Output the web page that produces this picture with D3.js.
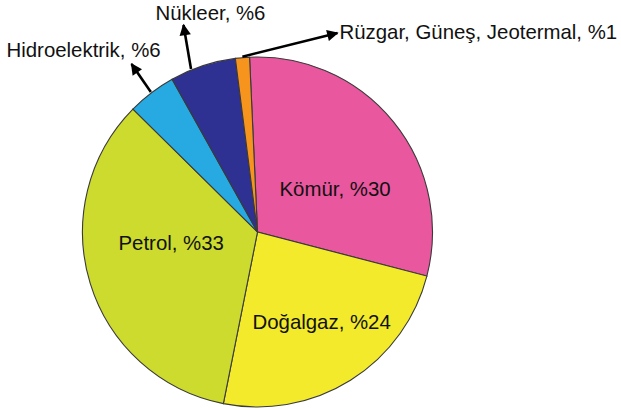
<!DOCTYPE html>
<html>
<head>
<meta charset="utf-8">
<script src="https://cdn.jsdelivr.net/npm/d3@7"></script>
<style>
  body { margin: 0; background: #fff; }
  svg { display: block; }
</style>
</head>
<body>
<svg width="621" height="410"></svg>
<script>
// slice shares as drawn in the picture (clockwise from the top)
let sources = ["Kömür", "Doğalgaz", "Petrol", "Hidroelektrik", "Nükleer", "Rüzgar, Güneş, Jeotermal"];
let shares = [29.8, 24.1, 34.3, 4.5, 6.1, 1.3];
// percentages printed on the labels
let labelPct = ["%30", "%24", "%33", "%6", "%6", "%1"];
let colors = ["#E9579E", "#F2EA2B", "#CCDB2E", "#27AAE1", "#2E3191", "#F7941E"];

let svg = d3.select("svg"),
    cx = 257.5, cy = 232, radius = 175;

let data = sources.map((s, i) => ({name: s, value: shares[i], pct: labelPct[i], color: colors[i]}));

let startAngle = -2.6 * Math.PI / 180;
let pie = d3.pie()
    .sort(null)
    .value((d) => d.value)
    .startAngle(startAngle)
    .endAngle(startAngle + 2 * Math.PI);

let arc = d3.arc().innerRadius(0).outerRadius(radius);

let g = svg.append("g")
    .attr("transform", "translate(" + cx + "," + cy + ")");

let arcs = pie(data);

g.selectAll(".slice")
  .data(arcs)
  .enter().append("path")
    .attr("class", "slice")
    .attr("d", arc)
    .style("fill", (d) => d.data.color)
    .style("stroke", "#3a3a3a")
    .style("stroke-width", 1.1);

// label placement: inside labels in pie coords, outside ones with arrows
let layout = [
  {x: 22, y: -36, anchor: "start"},
  {x: -5, y: 97, anchor: "start"},
  {x: -139, y: 18, anchor: "start"},
  {x: -251, y: -175, anchor: "start", arrow: {t: 0.5, dx: -126, dy: -168}},
  {x: -102, y: -212, anchor: "start", arrow: {t: 0.32, dx: -74, dy: -207}},
  {x: 82, y: -193, anchor: "start", arrow: {t: 0.5, dx: 80, dy: -199}}
];

svg.append("defs").append("marker")
    .attr("id", "head")
    .attr("viewBox", "0 0 10 10")
    .attr("refX", 9)
    .attr("refY", 5)
    .attr("markerWidth", 5.4)
    .attr("markerHeight", 4.4)
    .attr("markerUnits", "strokeWidth")
    .attr("orient", "auto")
  .append("path")
    .attr("d", "M0,0L10,5L0,10Z")
    .style("fill", "#000");

arcs.forEach((d, i) => {
  let L = layout[i];
  if (L.arrow) {
    let a = d.startAngle + (d.endAngle - d.startAngle) * L.arrow.t;
    let r = radius + 1;
    g.append("line")
        .attr("x1", r * Math.sin(a))
        .attr("y1", -r * Math.cos(a))
        .attr("x2", L.arrow.dx)
        .attr("y2", L.arrow.dy)
        .style("stroke", "#000")
        .style("stroke-width", 2.6)
        .attr("marker-end", "url(#head)");
  }
  g.append("text")
      .attr("x", L.x)
      .attr("y", L.y)
      .style("font", "20.4px 'Liberation Sans', Arial, sans-serif")
      .style("text-anchor", L.anchor)
      .style("fill", "#111")
      .text(d.data.name + ", " + d.data.pct);
});
</script>
</body>
</html>
